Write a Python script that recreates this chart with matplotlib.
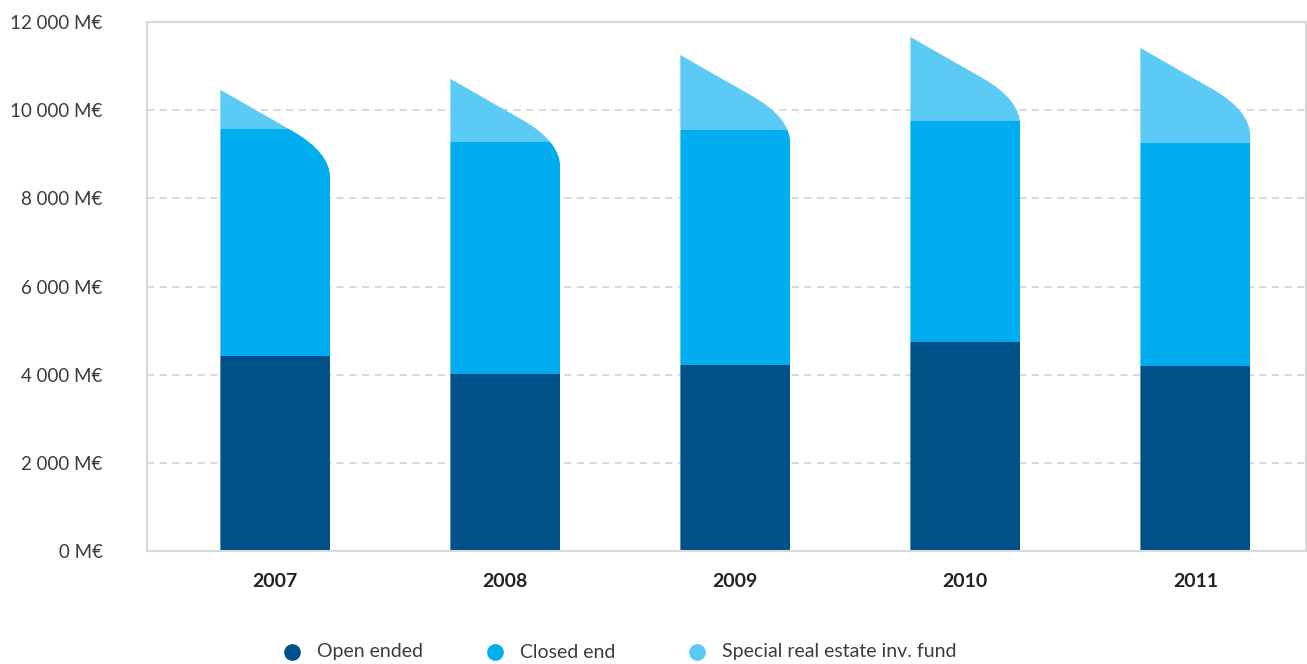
import matplotlib
matplotlib.use("Agg")
import matplotlib.pyplot as plt
from matplotlib.path import Path
from matplotlib.lines import Line2D
import numpy as np

# Real estate fund volumes (M€) per year, stacked by fund type
years = ["2007", "2008", "2009", "2010", "2011"]
open_ended = [4420, 4020, 4220, 4740, 4200]
closed_end = [5150, 5260, 5330, 5010, 5060]
special_fund = [890, 1430, 1700, 1910, 2150]

series_labels = ["Open ended", "Closed end", "Special real estate inv. fund"]
series_colors = ["#005187", "#00AEEF", "#5BCAF4"]

y_ticks = [0, 2000, 4000, 6000, 8000, 10000, 12000]

W, H, DPI = 1307, 664, 100
fig = plt.figure(figsize=(W / DPI, H / DPI), dpi=DPI)
ax = fig.add_axes([147 / W, 1 - 551 / H, (1306 - 147) / W, (551 - 22) / H])

x = np.arange(len(years))
bar_w = 0.478
ax.set_xlim(-0.558, len(years) - 1 + 0.481)
ax.set_ylim(0, 12000)

# scale factors for shaping the slanted cap (data units per pixel)
px_x = (ax.get_xlim()[1] - ax.get_xlim()[0]) / (1306 - 147)
px_y = 12000 / (551 - 22)
slope = 0.57 * px_y / px_x      # y drop per x unit along the cap
corner_dx = 38 * px_x           # where the rounded corner starts
corner_dy = 26 * px_y           # where the right edge turns vertical

bottoms = np.zeros(len(years))
stacks = []
for vals, col in zip([open_ended, closed_end, special_fund], series_colors):
    bars = ax.bar(x, vals, bar_w, bottom=bottoms, color=col, linewidth=0, zorder=2)
    stacks.append(bars)
    bottoms = bottoms + np.array(vals)

totals = bottoms
for i, xc in enumerate(x):
    left, right = xc - bar_w / 2, xc + bar_w / 2
    top = totals[i]
    y_int = top - slope * bar_w
    verts = [
        (left, -500),
        (left, top),
        (right - corner_dx, top - slope * (bar_w - corner_dx)),
        (right, y_int),
        (right, y_int - corner_dy),
        (right, -500),
        (left, -500),
    ]
    codes = [Path.MOVETO, Path.LINETO, Path.LINETO, Path.CURVE3, Path.CURVE3,
             Path.LINETO, Path.CLOSEPOLY]
    outline = Path(verts, codes)
    for bars in stacks:
        bars[i].set_clip_path(outline, ax.transData)

# frame and grid
for sp in ax.spines.values():
    sp.set_color("#d9d9d9")
    sp.set_linewidth(1.5)
ax.set_axisbelow(True)
ax.set_yticks(y_ticks)
ax.set_yticklabels([f"{v:,}".replace(",", " ") + " M€" for v in y_ticks])
ax.yaxis.grid(True, color="#d6d6d6", linewidth=1.3, linestyle=(0, (4, 3)))
for gl in ax.yaxis.get_gridlines()[:1] + ax.yaxis.get_gridlines()[-1:]:
    gl.set_visible(False)
ax.set_yticks([0, 12000], minor=True)
ax.tick_params(axis="y", which="major", length=0, pad=32,
               labelsize=13.5, labelcolor="#3c3c3c")
ax.tick_params(axis="y", which="minor", length=7.2, width=1.5, color="#d9d9d9")
for t in ax.get_yticklabels():
    t.set_fontfamily(["Lato", "DejaVu Sans"])
    t.set_fontweight("normal")

ax.set_xticks(x)
ax.set_xticklabels(years)
ax.tick_params(axis="x", length=0, pad=16, labelsize=14, labelcolor="#222222")
for t in ax.get_xticklabels():
    t.set_fontfamily(["Lato", "DejaVu Sans"])
    t.set_fontweight("bold")

# legend row
leg_y = 1 - 652 / H
for k, (lab, col) in enumerate(zip(series_labels, series_colors)):
    mx = 292 + 202.5 * k
    fig.add_artist(Line2D([mx / W], [leg_y], marker="o", markersize=11,
                          color=col, linestyle="none", transform=fig.transFigure))
    fig.text((mx + 25) / W, leg_y, lab, ha="left", va="center", fontsize=14,
             color="#3c3c3c", family=["Lato", "DejaVu Sans"], fontweight="normal")

fig.savefig("out.png", dpi=DPI, facecolor="white")
